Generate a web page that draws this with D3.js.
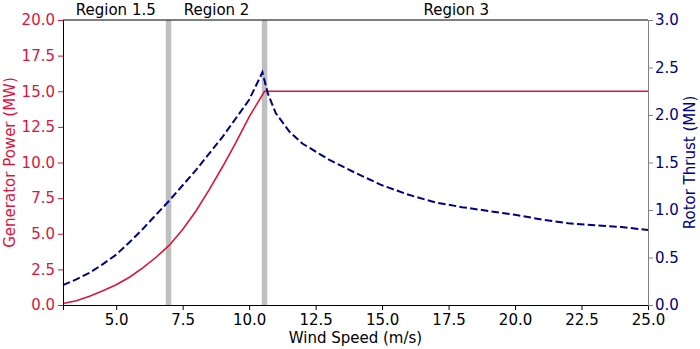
<!DOCTYPE html>
<html>
<head>
<meta charset="utf-8">
<script src="https://cdn.jsdelivr.net/npm/d3@7"></script>
<style>
  body { margin: 0; background: #fff; }
  svg { font-family: "DejaVu Sans", sans-serif; }
</style>
</head>
<body>
<svg id="chart" width="700" height="349"></svg>
<script>
// power curve (MW) vs wind speed (m/s)
let powerWind  = [3, 3.5, 4, 4.5, 5, 5.5, 6, 6.5, 7, 7.5, 8, 8.5, 9, 9.5, 10, 10.58, 25];
let powerVals  = [0.1, 0.3, 0.62, 1.0, 1.42, 1.95, 2.6, 3.35, 4.2, 5.3, 6.6, 8.1, 9.7, 11.4, 13.2, 15.0, 15.0];

// rotor thrust (MN) vs wind speed (m/s)
let thrustWind = [3, 3.5, 4, 4.5, 5, 5.5, 6, 7, 8, 9, 10, 10.5, 10.7, 11, 11.5, 12, 13, 14, 15, 16, 17, 18, 19, 20, 21, 22, 23, 24, 25];
let thrustVals = [0.21, 0.27, 0.34, 0.43, 0.53, 0.66, 0.80, 1.10, 1.42, 1.77, 2.16, 2.45, 2.23, 2.02, 1.83, 1.70, 1.53, 1.39, 1.26, 1.16, 1.08, 1.03, 0.99, 0.95, 0.90, 0.86, 0.84, 0.82, 0.79];

// region boundaries and labels
let regionBounds = [3, 6.97, 10.58, 25];
let regionNames  = ["Region 1.5", "Region 2", "Region 3"];

let xTicks  = [5, 7.5, 10, 12.5, 15, 17.5, 20, 22.5, 25];
let yTicksL = [0, 2.5, 5, 7.5, 10, 12.5, 15, 17.5, 20];
let yTicksR = [0, 0.5, 1, 1.5, 2, 2.5, 3];

let red = "#dc143c", navy = "#000080";

let chart = d3.select("#chart");
let plotLeft = 63, plotRight = 648, plotTop = 20, plotBottom = 305;

let x = d3.scaleLinear().domain([3, 25]).range([plotLeft, plotRight]);
let yP = d3.scaleLinear().domain([0, 20]).range([plotBottom, plotTop]);
let yT = d3.scaleLinear().domain([0, 3]).range([plotBottom, plotTop]);

// gray separators
chart.selectAll("line.sep")
    .data(regionBounds.slice(1, 3))
    .enter()
    .append("line")
    .attr("class", "sep")
    .attr("x1", d => x(d)).attr("x2", d => x(d))
    .attr("y1", plotTop).attr("y2", plotBottom)
    .attr("stroke", "#bfbfbf")
    .attr("stroke-width", 5.5);

// region labels
chart.selectAll("text.region")
    .data(regionNames)
    .enter()
    .append("text")
    .attr("class", "region")
    .attr("x", (d, i) => (x(regionBounds[i]) + x(regionBounds[i + 1])) / 2)
    .attr("y", 15)
    .attr("text-anchor", "middle")
    .style("font-size", "15px")
    .style("fill", "#000")
    .text(d => d);

// power line
chart.append("path")
    .datum(powerWind.map((w, i) => [w, powerVals[i]]))
    .attr("fill", "none")
    .attr("stroke", red)
    .attr("stroke-width", 1.6)
    .attr("d", d3.line()
        .x(d => x(d[0]))
        .y(d => yP(d[1])));

// thrust line
chart.append("path")
    .datum(thrustWind.map((w, i) => [w, thrustVals[i]]))
    .attr("fill", "none")
    .attr("stroke", navy)
    .attr("stroke-width", 2)
    .attr("stroke-dasharray", "7.5,3.3")
    .attr("d", d3.line()
        .x(d => x(d[0]))
        .y(d => yT(d[1])));

// axes
let fmt = d3.format(".1f");

let xAxisGroup = chart.append("g")
    .attr("transform", "translate(0," + plotBottom + ")")
    .call(d3.axisBottom(x).tickValues(xTicks).tickFormat(fmt).tickSize(5).tickPadding(4));
xAxisGroup.select(".domain").attr("stroke", "#000");
xAxisGroup.selectAll("text").style("font-size", "15px").style("fill", "#000").style("font-family", "DejaVu Sans");

let yAxisGroup = chart.append("g")
    .attr("transform", "translate(" + plotLeft + ",0)")
    .call(d3.axisLeft(yP).tickValues(yTicksL).tickFormat(fmt).tickSize(5).tickPadding(3));
yAxisGroup.select(".domain").attr("stroke", "#000");
yAxisGroup.selectAll(".tick line").attr("stroke", red);
yAxisGroup.selectAll("text").style("font-size", "15px").style("fill", red).style("font-family", "DejaVu Sans");

let yAxisGroupR = chart.append("g")
    .attr("transform", "translate(" + plotRight + ",0)")
    .call(d3.axisRight(yT).tickValues(yTicksR).tickFormat(fmt).tickSize(5).tickPadding(2));
yAxisGroupR.select(".domain").attr("stroke", "#808080");
yAxisGroupR.selectAll(".tick line").attr("stroke", "#808080");
yAxisGroupR.selectAll("text").style("font-size", "15px").style("fill", navy).style("font-family", "DejaVu Sans");

// top spine
chart.append("line")
    .attr("x1", plotLeft).attr("x2", plotRight)
    .attr("y1", plotTop).attr("y2", plotTop)
    .attr("stroke", "#000");

// axis labels
chart.append("text")
    .text("Wind Speed (m/s)")
    .attr("x", (plotLeft + plotRight) / 2)
    .attr("y", 343)
    .attr("text-anchor", "middle")
    .style("font-size", "15px")
    .style("fill", "#000");

chart.append("text")
    .text("Generator Power (MW)")
    .attr("transform", "translate(15," + (plotTop + plotBottom) / 2 + ") rotate(-90)")
    .attr("text-anchor", "middle")
    .style("font-size", "15px")
    .style("fill", red);

chart.append("text")
    .text("Rotor Thrust (MN)")
    .attr("transform", "translate(695," + (plotTop + plotBottom) / 2 + ") rotate(-90)")
    .attr("text-anchor", "middle")
    .style("font-size", "15px")
    .style("fill", navy);
</script>
</body>
</html>
